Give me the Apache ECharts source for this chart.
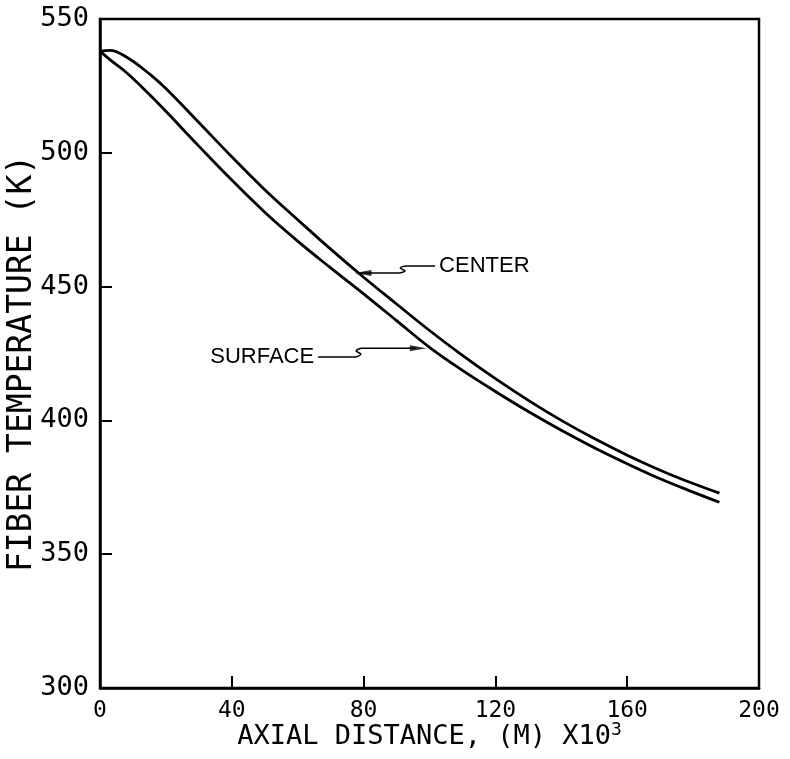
<!DOCTYPE html>
<html>
<head>
<meta charset="utf-8">
<script src="https://cdn.jsdelivr.net/npm/echarts@6/dist/echarts.min.js"></script>
<style>
    html, body { margin: 0; padding: 0; background: #fff; }
    #chart { width: 790px; height: 759px; }
</style>
</head>
<body>
<div id="chart"></div>
<script>
// axial distance (M x10^3) and fiber temperature (K)
var distance = [0, 3, 8, 15, 20, 30, 40, 50, 60, 70, 80, 90, 100, 110, 120, 130, 140, 150, 160, 170, 180, 188];
var centerTemp = [538, 538.3, 535.8, 529.5, 524, 511.3, 498.5, 486.2, 475, 464, 453.5, 443.5, 433.6, 424.3, 415.6, 407.5, 400, 393.2, 387, 381.4, 376.4, 372.8];
var surfaceTemp = [538, 534.8, 530, 521.8, 515.5, 502.5, 489.8, 477.8, 467, 457, 447.3, 437.3, 427.3, 418.7, 410.8, 403.3, 396.3, 389.8, 383.8, 378.2, 373.2, 369.4];

var xTicks = [0, 40, 80, 120, 160, 200];
var yTicks = [300, 350, 400, 450, 500, 550];

// leader lines of the two call-outs (data units)
var centerLeader = [[101.7, 457.7], [92.9, 457.7], [91.1, 457.0], [92.6, 455.8], [90.7, 455.1], [79, 455.1]];
var surfaceLeader = [[66.2, 423.7], [77.4, 423.7], [79.2, 424.8], [77.7, 425.9], [79.5, 427.0], [96, 427.0]];
var centerArrow = [79.8, 455.1];
var surfaceArrow = [96.6, 427.0];

var monoFont = '"DejaVu Sans Mono", monospace';
var labelFont = '"Liberation Sans", Arial, sans-serif';

function toPairs(xs, ys) {
    var result = [];
    for (var i = 0; i < xs.length; i++) {
        result.push([xs[i], ys[i]]);
    }
    return result;
}

function leaderData(points, text) {
    var result = [];
    for (var i = 0; i < points.length; i++) {
        var item = { value: points[i] };
        if (i === 0) {
            item.label = {
                show: true,
                position: text.side,
                distance: 4,
                formatter: text.name,
                fontFamily: labelFont,
                fontSize: 22,
                color: '#000'
            };
        }
        result.push(item);
    }
    return result;
}

var myChart = echarts.init(document.getElementById('chart'));

myChart.setOption({
    backgroundColor: '#fff',
    animation: false,
    grid: {
        left: 100,
        right: 31,
        top: 19,
        bottom: 71,
        outerBoundsMode: 'none',
        containLabel: false,
        show: true,
        borderColor: '#000',
        borderWidth: 2.5
    },
    xAxis: {
        type: 'value',
        min: xTicks[0],
        max: xTicks[xTicks.length - 1],
        interval: 40,
        name: '{a|AXIAL DISTANCE, (M) X10}{s|3}',
        nameLocation: 'middle',
        nameGap: 33,
        nameMoveOverlap: false,
        nameTextStyle: {
            rich: {
                a: { fontFamily: monoFont, fontSize: 27, color: '#000' },
                s: { fontFamily: monoFont, fontSize: 18, color: '#000', padding: [0, 0, 13, 0] }
            }
        },
        axisLine: { lineStyle: { color: '#000', width: 2.5 } },
        axisTick: { inside: true, length: 12, lineStyle: { color: '#000', width: 2 } },
        axisLabel: { fontFamily: monoFont, fontSize: 23, color: '#000', margin: 12 },
        splitLine: { show: false }
    },
    yAxis: {
        type: 'value',
        min: yTicks[0],
        max: yTicks[yTicks.length - 1],
        interval: 50,
        name: 'FIBER TEMPERATURE (K)',
        nameLocation: 'middle',
        nameGap: 61,
        nameMoveOverlap: false,
        nameTextStyle: { fontFamily: monoFont, fontSize: 33, color: '#000', padding: [0, 20, 0, 0] },
        axisLine: { lineStyle: { color: '#000', width: 2.5 } },
        axisTick: { inside: true, length: 12, lineStyle: { color: '#000', width: 2 } },
        axisLabel: { fontFamily: monoFont, fontSize: 27, color: '#000', margin: 11 },
        splitLine: { show: false }
    },
    series: [
        {
            name: 'CENTER',
            type: 'line',
            data: toPairs(distance, centerTemp),
            smooth: 0.4,
            showSymbol: false,
            lineStyle: { color: '#000', width: 2.8 }
        },
        {
            name: 'SURFACE',
            type: 'line',
            data: toPairs(distance, surfaceTemp),
            smooth: 0.4,
            showSymbol: false,
            lineStyle: { color: '#000', width: 2.8 }
        },
        {
            type: 'line',
            data: leaderData(centerLeader, { name: 'CENTER', side: 'right' }),
            symbolSize: 0,
            smooth: 0.3,
            lineStyle: { color: '#000', width: 1.5 },
            z: 3
        },
        {
            type: 'line',
            data: leaderData(surfaceLeader, { name: 'SURFACE', side: 'left' }),
            symbolSize: 0,
            smooth: 0.3,
            lineStyle: { color: '#000', width: 1.5 },
            z: 3
        },
        {
            type: 'scatter',
            data: [
                { value: centerArrow, symbolRotate: 90 },
                { value: surfaceArrow, symbolRotate: -90 }
            ],
            symbol: 'triangle',
            symbolSize: [6, 17],
            itemStyle: { color: '#000' },
            z: 4
        }
    ]
});
</script>
</body>
</html>
